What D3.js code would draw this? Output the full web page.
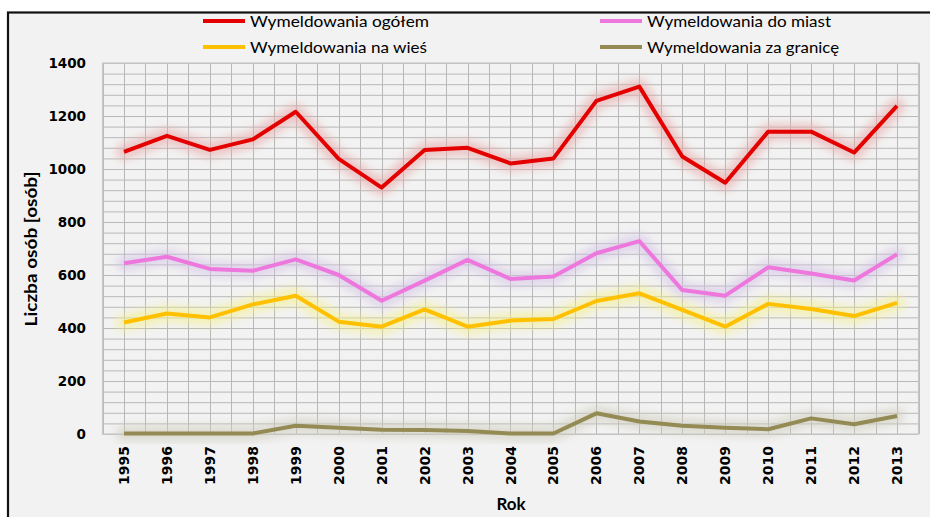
<!DOCTYPE html>
<html><head><meta charset="utf-8">
<script src="https://cdn.jsdelivr.net/npm/d3@7"></script>
<style>
html,body{margin:0;padding:0;background:#fff;}
svg{display:block;}
</style></head>
<body>
<svg id="c" width="930" height="517"></svg>
<script>
const years = [1995,1996,1997,1998,1999,2000,2001,2002,2003,2004,2005,2006,2007,2008,2009,2010,2011,2012,2013];
const ogolem   = [1065,1125,1072,1112,1216,1038,930,1072,1080,1021,1040,1257,1311,1047,948,1141,1141,1062,1238];
const doMiast  = [644,669,623,616,659,600,503,579,657,585,594,682,728,543,522,629,606,579,678];
const naWies   = [421,455,440,489,522,424,405,470,405,428,434,502,531,468,405,491,472,445,495];
const zaGranice= [2,2,2,2,31,24,16,15,11,2,2,78,47,31,24,18,59,37,68];
const yTicks = [0,200,400,600,800,1000,1200,1400];
const seriesNames = ["Wymeldowania ogółem","Wymeldowania do miast","Wymeldowania na wieś","Wymeldowania za granicę"];
const seriesValues = [ogolem, doMiast, naWies, zaGranice];
const colors = ["#e50000","#ee77dd","#ffc000","#948a54"];
const glows  = ["#e8a8a8","#d4c4e6","#f4f08a","#cfcdbd"];

const svg = d3.select("#c");
// background + frame
svg.append("rect").attr("x",8).attr("y",12.5).attr("width",940).attr("height",520)
  .attr("fill","#f2f2f2").attr("stroke","#111").attr("stroke-width",2.2);

const L = 102.5, R = 918.5, T = 63, B = 434;
const x = d3.scaleBand().domain(years).range([L,R]).paddingInner(0).paddingOuter(0);
const xc = d => x(d) + x.bandwidth()/2;
const y = d3.scaleLinear().domain([0,1400]).range([B,T]);

const defs = svg.append("defs");
const f = defs.append("filter").attr("id","glow").attr("x","-10%").attr("y","-50%").attr("width","120%").attr("height","200%");
f.append("feGaussianBlur").attr("stdDeviation",4.5);

const g = svg.append("g");
// grid: horizontal every 40
g.selectAll("line.h").data(d3.range(0,1401,40)).join("line")
  .attr("x1",L).attr("x2",R).attr("y1",d=>y(d)+0.5).attr("y2",d=>y(d)+0.5)
  .attr("stroke","#b8b8b8").attr("stroke-width",1);
// vertical every half band
const vlines = [];
years.forEach(yr => { vlines.push(x(yr)); vlines.push(xc(yr)); });
vlines.push(R);
g.selectAll("line.v").data(vlines).join("line")
  .attr("x1",d=>Math.round(d)+0.5).attr("x2",d=>Math.round(d)+0.5).attr("y1",T).attr("y2",B)
  .attr("stroke","#b8b8b8").attr("stroke-width",1);
g.append("rect").attr("x",L).attr("y",T).attr("width",R-L).attr("height",B-T)
  .attr("fill","none").attr("stroke","#c8c8c8").attr("stroke-width",1.2);

const line = d3.line().x((d,i)=>xc(years[i])).y(d=>y(d));
// glows
seriesValues.forEach((vals,k)=>{
  svg.append("path").datum(vals).attr("d",line).attr("fill","none")
    .attr("stroke",glows[k]).attr("stroke-width",16).attr("stroke-linejoin","round")
    .attr("stroke-linecap","round").attr("opacity",0.6).attr("filter","url(#glow)");
});
seriesValues.forEach((vals,k)=>{
  svg.append("path").datum(vals).attr("d",line).attr("fill","none")
    .attr("stroke",colors[k]).attr("stroke-width",4).attr("stroke-linejoin","round");
});

// Y axis
const yAxis = d3.axisLeft(y).tickValues(yTicks).tickSize(0).tickPadding(0).tickFormat(d3.format("d"));
const ya = svg.append("g").attr("transform",`translate(86,0)`).call(yAxis);
ya.select(".domain").remove();
ya.selectAll("text").attr("font-family","DejaVu Sans").attr("font-weight","bold")
  .attr("font-size","13.5px").attr("fill","#000").attr("dy","0.35em");

// X axis
const xAxis = d3.axisBottom(x).tickSize(0).tickPadding(0);
const xa = svg.append("g").attr("transform",`translate(0,446)`).call(xAxis);
xa.select(".domain").remove();
xa.selectAll("text").attr("font-family","DejaVu Sans").attr("font-weight","bold")
  .attr("font-size","14px").attr("fill","#000")
  .attr("transform","rotate(-90)").attr("text-anchor","end")
  .attr("x",0).attr("y",0).attr("dy","0.36em");

// Titles
svg.append("text").attr("transform","translate(37,249) rotate(-90)").attr("text-anchor","middle")
  .attr("font-family","Lato").attr("font-weight","bold").attr("font-size","17px")
  .attr("textLength",155).attr("lengthAdjust","spacingAndGlyphs").text("Liczba osób [osób]");
svg.append("text").attr("x",511).attr("y",510).attr("text-anchor","middle")
  .attr("font-family","Lato").attr("font-weight","bold").attr("font-size","17px").text("Rok");

// Legend
const legPos = [[203,21],[600,21],[203,47],[600,47]];
const legW = [179,184,177,192];
seriesNames.forEach((n,k)=>{
  const [lx,ly] = legPos[k];
  svg.append("line").attr("x1",lx).attr("x2",lx+42).attr("y1",ly).attr("y2",ly)
    .attr("stroke",colors[k]).attr("stroke-width",4);
  svg.append("text").attr("x",lx+47).attr("y",ly).attr("dy","0.35em")
    .attr("font-family","Lato").attr("font-size","16px").attr("fill","#000")
    .attr("textLength",legW[k]).attr("lengthAdjust","spacingAndGlyphs").text(n);
});
</script>
</body></html>
